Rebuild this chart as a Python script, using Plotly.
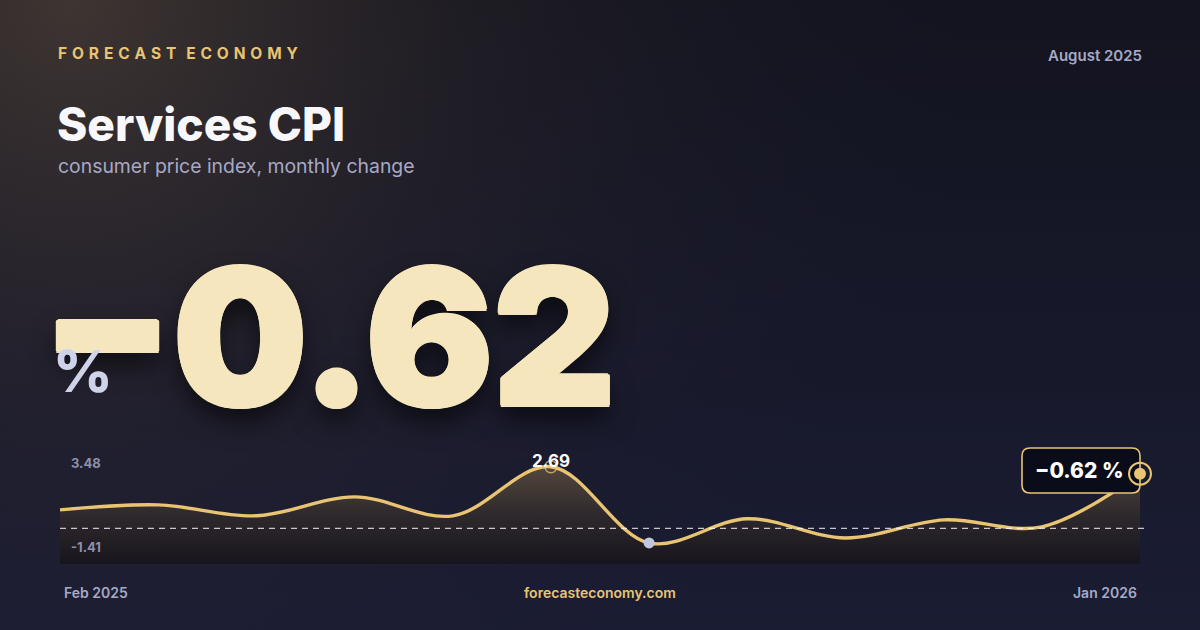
import base64
import plotly.graph_objects as go

W, H = 1200, 630

months = ["Feb 2025", "Mar 2025", "Apr 2025", "May 2025", "Jun 2025", "Jul 2025",
          "Aug 2025", "Sep 2025", "Oct 2025", "Nov 2025", "Dec 2025", "Jan 2026"]
values = [0.37, 0.64, 0.05, 1.07, 0.05, 2.69, -1.41, -0.11, -1.14, -0.17, -0.54, 2.31]
latest = -0.62
peak_label = 2.69
axis_top = 3.48
axis_low = -1.41
axis_floor = -2.54

GOLD = "#e8c473"
LAV = "#a7a9c6"
CREAM = "#f6e6bd"


def px(x, y):
    # pixel -> paper coords
    return x / W, 1 - y / H


# background: dark navy with warm glow top-left
svg = f"""<svg xmlns='http://www.w3.org/2000/svg' width='{W}' height='{H}'>
<defs>
<linearGradient id='g' x1='0' y1='0' x2='0' y2='1'>
<stop offset='0' stop-color='#13141f'/><stop offset='1' stop-color='#1a1c33'/>
</linearGradient>
<radialGradient id='r' cx='0.06' cy='0' r='0.75' gradientTransform='scale(1,1.9)'>
<stop offset='0' stop-color='#6a5744' stop-opacity='0.5'/>
<stop offset='0.45' stop-color='#4a3c34' stop-opacity='0.2'/>
<stop offset='1' stop-color='#1a1c33' stop-opacity='0'/>
</radialGradient>
</defs>
<rect width='{W}' height='{H}' fill='url(#g)'/>
<rect width='{W}' height='{H}' fill='url(#r)'/>
</svg>"""
bg_uri = "data:image/svg+xml;base64," + base64.b64encode(svg.encode()).decode()

idx = list(range(len(values)))
i_peak = values.index(max(values))
i_min = values.index(min(values))

# plot spans 60..1140px for the data, with a little room on the right for the end ring
x_left, x_right, x_pad = 60, 1140, 14
unit = (x_right - x_left) / (len(values) - 1)
x_max = (len(values) - 1) + x_pad / unit

fig = go.Figure()

# floor trace so the area fills down to the bottom of the plot
fig.add_trace(go.Scatter(x=idx, y=[axis_floor] * len(idx), mode="lines",
                         line=dict(width=0), hoverinfo="skip", showlegend=False))
fig.add_trace(go.Scatter(
    x=idx, y=values, mode="lines", fill="tonexty",
    line=dict(color=GOLD, width=3.4, shape="spline", smoothing=1.0),
    fillgradient=dict(type="vertical", start=axis_floor, stop=peak_label,
                      colorscale=[[0, "rgba(22,20,28,0.95)"], [0.5, "rgba(48,42,44,0.9)"],
                                  [1, "rgba(92,78,62,0.85)"]]),
    hoverinfo="skip", showlegend=False))

# dashed line at latest value
fig.add_trace(go.Scatter(x=[idx[0], idx[-1] + 0.05], y=[latest, latest], mode="lines",
                         line=dict(color="rgba(255,255,255,0.75)", width=1.2, dash="6px,5px"),
                         hoverinfo="skip", showlegend=False))

# peak ring and minimum dot
fig.add_trace(go.Scatter(x=[idx[i_peak]], y=[values[i_peak]], mode="markers",
                         marker=dict(symbol="circle-open", size=12, color="rgba(232,196,115,0.75)",
                                     line=dict(width=1.5)), hoverinfo="skip", showlegend=False))
fig.add_trace(go.Scatter(x=[idx[i_min]], y=[values[i_min]], mode="markers",
                         marker=dict(size=11, color="#c3c7de"), hoverinfo="skip", showlegend=False))

# callout box with rounded corners
x0, y0 = px(1022, 448)
x1, y1 = px(1140, 493)
rx, ry = 8 / W, 8 / H
path = (f"M {x0+rx},{y0} L {x1-rx},{y0} Q {x1},{y0} {x1},{y0-ry} L {x1},{y1+ry} "
        f"Q {x1},{y1} {x1-rx},{y1} L {x0+rx},{y1} Q {x0},{y1} {x0},{y1+ry} "
        f"L {x0},{y0-ry} Q {x0},{y0} {x0+rx},{y0} Z")
shapes = [dict(type="path", xref="paper", yref="paper", path=path, layer="above",
               fillcolor="#0b0c19", line=dict(color=GOLD, width=1.6))]

# end marker (ring + dot) anchored on the last data point, drawn above the box
for r, fill, lw in [(11, "rgba(0,0,0,0)", 2), (6, GOLD, 0)]:
    shapes.append(dict(type="circle", xref="x", yref="y", xsizemode="pixel", ysizemode="pixel",
                       xanchor=idx[-1], yanchor=values[-1], x0=-r, x1=r, y0=-r, y1=r,
                       fillcolor=fill, line=dict(color=GOLD, width=lw), layer="above"))

ann = []


def text(x, y, s, size, color, weight=400, xanchor="left", yanchor="middle", family="Inter", **kw):
    ax, ay = px(x, y)
    ann.append(dict(x=ax, y=ay, xref="paper", yref="paper", text=s, showarrow=False,
                    xanchor=xanchor, yanchor=yanchor,
                    font=dict(family=family, size=size, color=color, weight=weight, **kw)))


text(56, 53, "F O R E C A S T  E C O N O M Y".replace(" ", " \u200a"), 15.5, GOLD, 700)
text(1144, 55, "August 2025", 15, LAV, 600, xanchor="right")
text(55, 124, "Services CPI", 46, "#f8f8fc", 800)
text(56, 166, "consumer price index, monthly change", 19.4, LAV, 400)

# faux-heavy big number: thicken glyphs with tight shadows, then a soft drop shadow
thick = ", ".join(f"{dx}px {dy}px 0 {CREAM}" for dx, dy in
                  [(2, 0), (-2, 0), (0, 2), (0, -2), (1.5, 1.5), (-1.5, 1.5), (1.5, -1.5), (-1.5, -1.5)])
text(40, 336, "\u22120.62", 189, CREAM, 900, family="Inter Black, Inter",
     shadow=thick + ", 0px 14px 26px rgba(0,0,0,0.6)")
text(51, 371, "%", 58, "#cfd3ea", 800)

text(1079, 470, "\u22120.62 %", 21, "#ffffff", 800, xanchor="center")

text(62, 592, "Feb 2025", 14, LAV, 600)
text(600, 592, "forecasteconomy.com", 14, GOLD, 600, xanchor="center")
text(1139, 592, "Jan 2026", 14, LAV, 600, xanchor="right")

# chart labels in data coordinates
ann.append(dict(x=69 / W, y=axis_top, xref="paper", yref="y", text=f"{axis_top:.2f}", showarrow=False,
                xanchor="left", yanchor="top", yshift=-1,
                font=dict(family="Inter", size=13, color="#8e90ad", weight=700)))
ann.append(dict(x=69 / W, y=axis_low, xref="paper", yref="y", text=f"{axis_low:.2f}", showarrow=False,
                xanchor="left", yanchor="middle", yshift=-4,
                font=dict(family="Inter", size=13, color="#8e90ad", weight=700)))
ann.append(dict(x=idx[i_peak], y=values[i_peak], xref="x", yref="y", text=f"{peak_label:.2f}",
                showarrow=False, yshift=6,
                font=dict(family="Inter", size=17, color="#ffffff", weight=700)))

fig.update_layout(
    width=W, height=H, margin=dict(l=0, r=0, t=0, b=0),
    paper_bgcolor="#171929", plot_bgcolor="rgba(0,0,0,0)",
    xaxis=dict(domain=[x_left / W, (x_right + x_pad) / W], range=[0, x_max], visible=False,
               fixedrange=True),
    yaxis=dict(domain=[1 - 564 / H, 1 - 452 / H], range=[axis_floor, axis_top], visible=False,
               fixedrange=True),
    images=[dict(source=bg_uri, xref="paper", yref="paper", x=0, y=1, sizex=1, sizey=1,
                 xanchor="left", yanchor="top", sizing="stretch", layer="below")],
    shapes=shapes, annotations=ann,
)

fig.write_html("out.html", config={"displayModeBar": False},
               post_script="document.body.style.margin='0';document.body.style.overflow='hidden';")
